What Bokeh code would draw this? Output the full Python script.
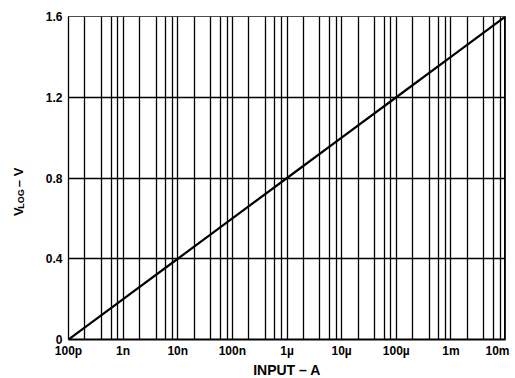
import math
from bokeh.plotting import figure
from bokeh.layouts import row
from bokeh.models import FixedTicker, Label, Span, CustomJSTickFormatter
from bokeh.embed import file_html
from bokeh.resources import INLINE

# ---- data ----
decades = [1e-10, 1e-9, 1e-8, 1e-7, 1e-6, 1e-5, 1e-4, 1e-3, 1e-2]
decade_labels = ["100p", "1n", "10n", "100n", "1\u00b5", "10\u00b5", "100\u00b5", "1m", "10m"]
minor_mult = [2, 4, 6, 8]
y_ticks = [0.0, 0.4, 0.8, 1.2, 1.6]
y_labels = ["0", "0.4", "0.8", "1.2", "1.6"]

input_a = [1e-10, 1e-9, 1e-8, 1e-7, 1e-6, 1e-5, 1e-4, 1e-3, 1e-2]
vlog = [0.0, 0.2, 0.4, 0.6, 0.8, 1.0, 1.2, 1.4, 1.6]

FONT = "Liberation Sans"
W, H = 515, 378
TW = 30  # width of the strip that carries the y title

# ---- strip holding the y-axis title (V with subscript LOG) ----
t = figure(width=TW, height=H, x_range=(0, TW), y_range=(0, H), min_border=0,
           x_axis_location=None, y_axis_location=None, outline_line_color=None,
           output_backend="svg", toolbar_location=None)
t.grid.visible = False
ang = math.pi / 2
lab = dict(angle=ang, text_align="left", text_baseline="alphabetic", text_font=FONT,
           text_font_style="bold", text_color="black")
t.add_layout(Label(x=18, y=143, text="V", text_font_size="13px", **lab))
t.add_layout(Label(x=20, y=151.7, text="LOG", text_font_size="9px", **lab))
t.add_layout(Label(x=18, y=177, text="\u2013 V", text_font_size="13px", **lab))

# ---- main chart ----
p = figure(x_axis_type="log", x_range=(decades[0], decades[-1]), y_range=(y_ticks[0], y_ticks[-1]),
           frame_width=437, frame_height=323,
           min_border_left=68 - TW, min_border_right=W - 68 - 437, min_border_top=16,
           min_border_bottom=H - 16 - 323,
           output_backend="svg", toolbar_location=None)

minor = [m * d for d in decades[:-1] for m in minor_mult]
p.xaxis.ticker = FixedTicker(ticks=decades, minor_ticks=minor)
p.yaxis.ticker = FixedTicker(ticks=y_ticks, minor_ticks=[])

shown = decade_labels[:-1] + [decade_labels[-1] + "\u2002"]
p.xaxis.formatter = CustomJSTickFormatter(args=dict(xlabs=shown, first=decades[0]),
    code="const i = Math.round(Math.log10(tick) - Math.log10(first)); return xlabs[i] || '';")
p.yaxis.formatter = CustomJSTickFormatter(args=dict(yt=y_ticks, yl=y_labels),
    code="for (let i = 0; i < yt.length; i++) { if (Math.abs(yt[i]-tick) < 1e-9) return yl[i]; } return '';")

for ax in (p.xaxis, p.yaxis):
    ax.major_tick_out = 0
    ax.major_tick_in = 0
    ax.minor_tick_out = 0
    ax.minor_tick_in = 0
    ax.axis_line_color = "black"
    ax.major_label_text_font = FONT
    ax.major_label_text_font_style = "bold"
    ax.major_label_text_font_size = "12px"
    ax.major_label_text_color = "black"
p.xaxis.axis_line_width = 2
p.yaxis.axis_line_width = 1.3
p.xaxis.major_label_standoff = 4
p.yaxis.major_label_standoff = 6

p.xaxis.axis_label = "INPUT \u2013 A"
p.xaxis.axis_label_text_font = FONT
p.xaxis.axis_label_text_font_style = "bold"
p.xaxis.axis_label_text_font_size = "14px"
p.xaxis.axis_label_text_color = "black"
p.xaxis.axis_label_standoff = 1

p.xgrid.grid_line_color = "black"
p.xgrid.grid_line_width = 1.3
p.xgrid.minor_grid_line_color = "black"
p.xgrid.minor_grid_line_width = 1.3
p.ygrid.grid_line_color = "black"
p.ygrid.grid_line_width = 1.3

p.outline_line_color = "black"
p.outline_line_width = 1
p.outline_line_alpha = 0.7

p.add_layout(Span(location=decades[-1], dimension="height", line_color="black", line_width=3))

p.line(input_a, vlog, line_color="black", line_width=2.2)

layout = row(t, p)
open("out.html", "w").write(file_html(layout, INLINE))
